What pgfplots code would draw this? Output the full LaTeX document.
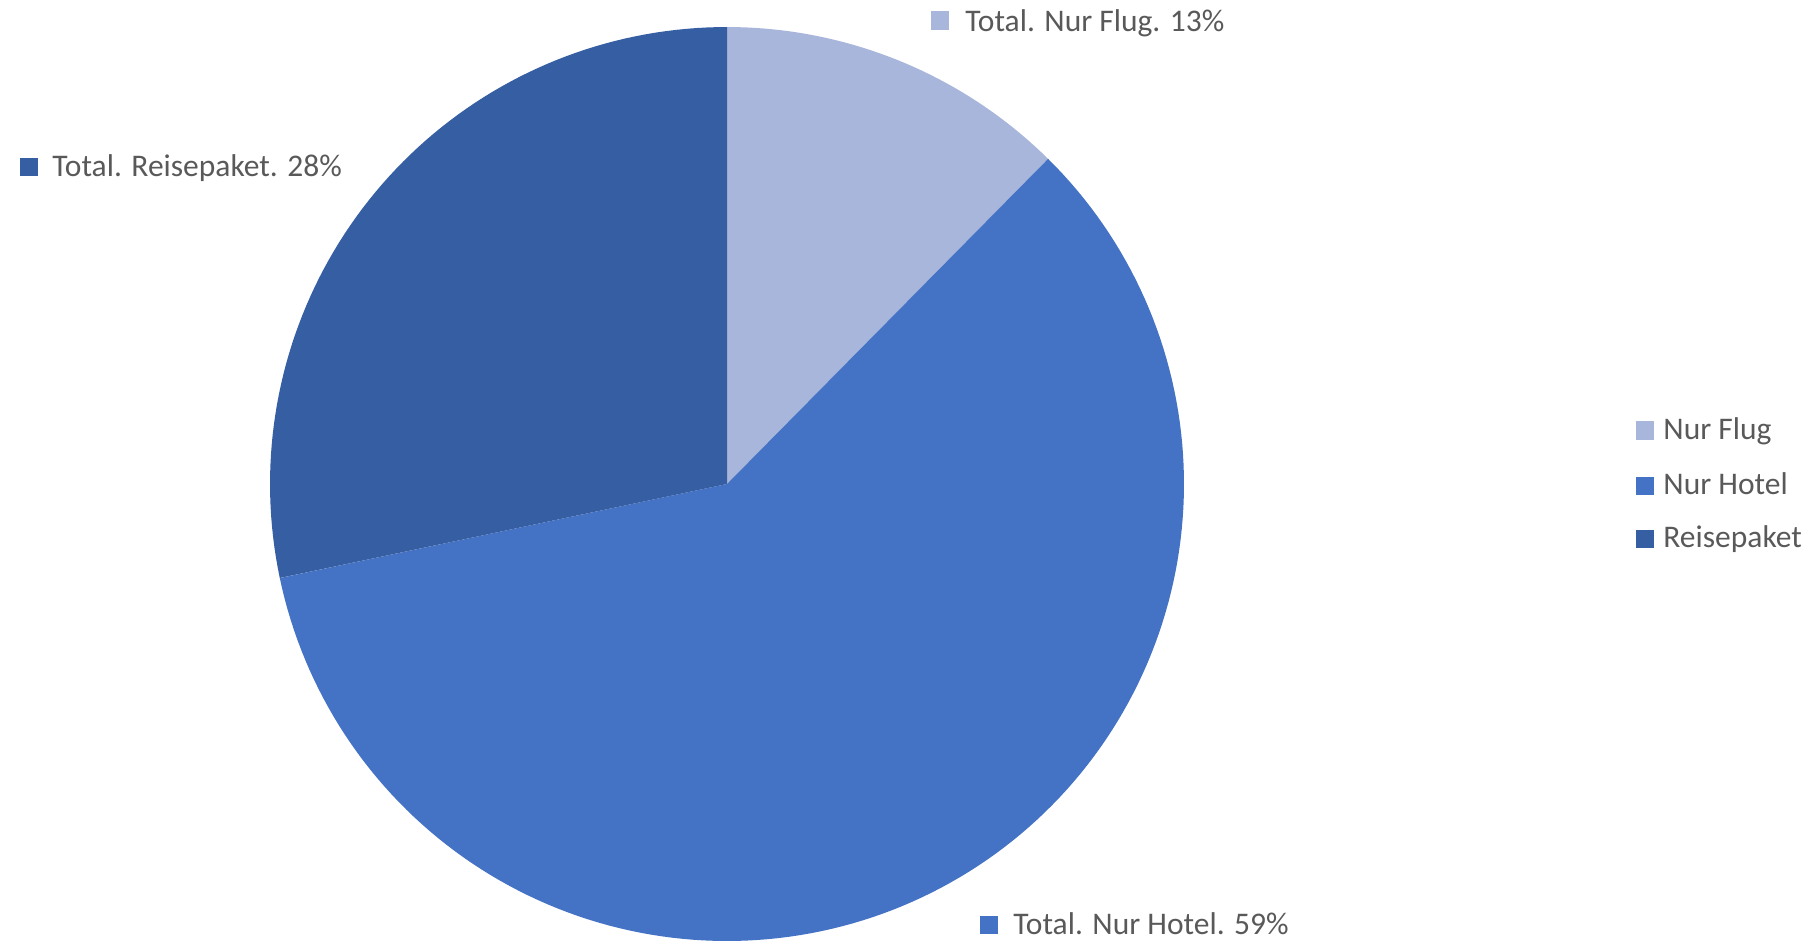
\documentclass[border=0pt]{standalone}
\usepackage{pgfplots}
\pgfplotsset{compat=1.18}
\usepackage{pgfplotstable}
\usepackage{fontspec}
\setmainfont{Carlito}
\definecolor{cFlug}{RGB}{169,182,219}
\definecolor{cHotel}{RGB}{68,114,196}
\definecolor{cReise}{RGB}{54,94,163}
\definecolor{txt}{RGB}{89,89,89}
\newcommand\lab{\fontsize{15.75}{19}\selectfont}
\pgfplotstableread{
name share
Flug 12.4
Hotel 59.3
Reise 28.3
}\pietable
\begin{document}
\begin{tikzpicture}
\pgfplotstablegetelem{0}{share}\of\pietable \let\sA\pgfplotsretval
\pgfplotstablegetelem{1}{share}\of\pietable \let\sB\pgfplotsretval
\pgfplotstablegetelem{2}{share}\of\pietable \let\sC\pgfplotsretval
\pgfmathsetmacro\aA{90}
\pgfmathsetmacro\aB{90-3.6*\sA}
\pgfmathsetmacro\aC{\aB-3.6*\sB}
\pgfmathsetmacro\aD{\aC-3.6*\sC}
\begin{axis}[scale only axis, width=907.5pt, height=472pt,
  xmin=0, xmax=1815, ymin=0, ymax=944, y dir=reverse,
  hide axis, clip=false]
% pie slices (centre 727,484 ; radius 457 in picture pixels)
\addplot[fill=cFlug, draw=none, domain=\aB:\aA, samples=40]
  ({727+457*cos(x)},{484-457*sin(x)}) -- (axis cs:727,484) -- cycle;
\addplot[fill=cHotel, draw=none, domain=\aC:\aB, samples=160]
  ({727+457*cos(x)},{484-457*sin(x)}) -- (axis cs:727,484) -- cycle;
\addplot[fill=cReise, draw=none, domain=\aD:\aC, samples=80]
  ({727+457*cos(x)},{484-457*sin(x)}) -- (axis cs:727,484) -- cycle;
% data labels
\addplot[only marks, mark=square*, mark size=4.35pt, color=cFlug] coordinates {(940,20.5)};
\node[anchor=base west, inner sep=0pt, text=txt, font=\lab] at (axis cs:965,31.7) {Total. Nur Flug. 13\%};
\addplot[only marks, mark=square*, mark size=4.35pt, color=cReise] coordinates {(29,167)};
\node[anchor=base west, inner sep=0pt, text=txt, font=\lab] at (axis cs:52,176.3) {Total. Reisepaket. 28\%};
\addplot[only marks, mark=square*, mark size=4.35pt, color=cHotel] coordinates {(989,925)};
\node[anchor=base west, inner sep=0pt, text=txt, font=\lab] at (axis cs:1013,934.3) {Total. Nur Hotel. 59\%};
% legend
\addplot[only marks, mark=square*, mark size=4.35pt, color=cFlug] coordinates {(1645,430.3)};
\node[anchor=base west, inner sep=0pt, text=txt, font=\lab] at (axis cs:1663,439) {Nur Flug};
\addplot[only marks, mark=square*, mark size=4.35pt, color=cHotel] coordinates {(1645,485.7)};
\node[anchor=base west, inner sep=0pt, text=txt, font=\lab] at (axis cs:1663,494.3) {Nur Hotel};
\addplot[only marks, mark=square*, mark size=4.35pt, color=cReise] coordinates {(1645,538.7)};
\node[anchor=base west, inner sep=0pt, text=txt, font=\lab] at (axis cs:1663,547.3) {Reisepaket};
\end{axis}
\pgfresetboundingbox
\path[use as bounding box] (current axis.south west) rectangle (current axis.north east);
\end{tikzpicture}
\end{document}
